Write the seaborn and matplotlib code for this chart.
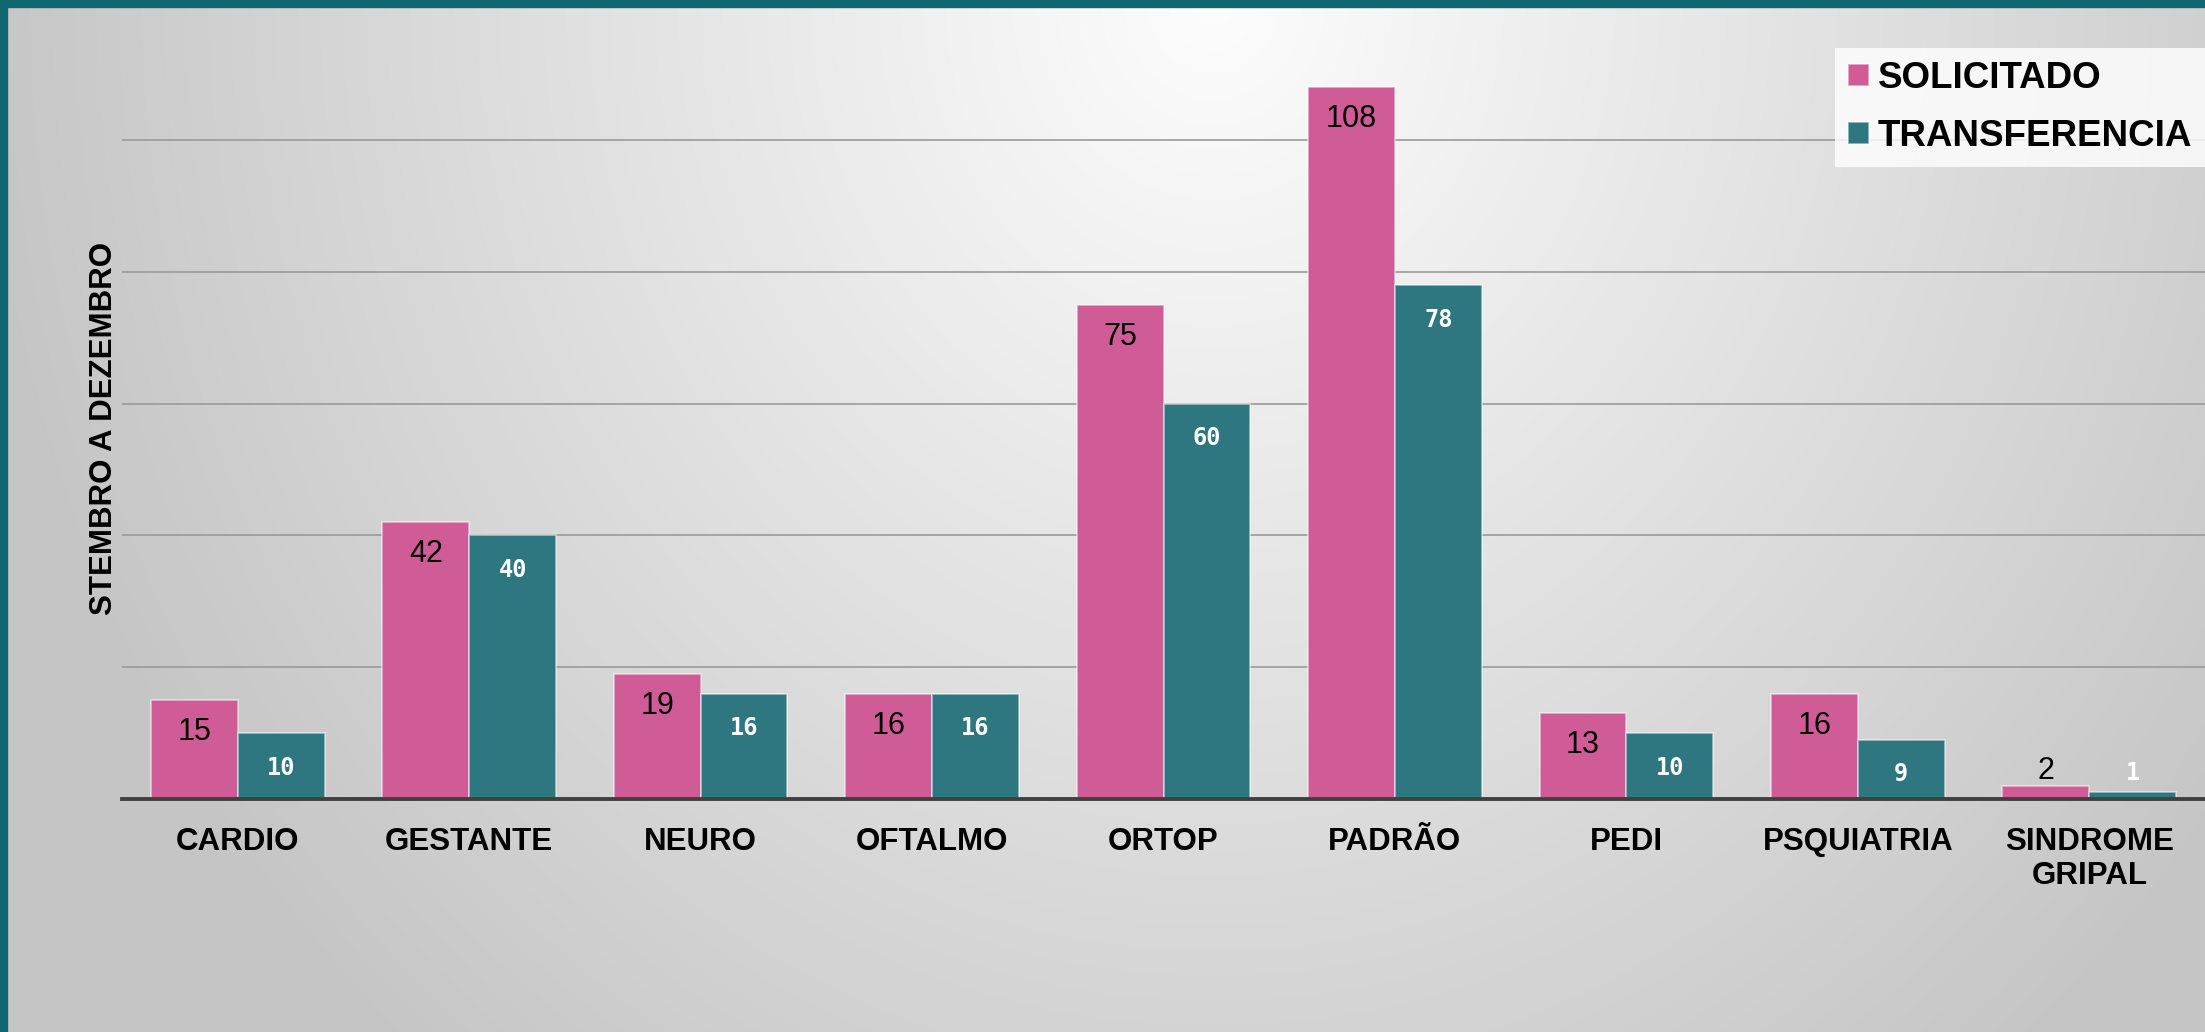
import numpy as np
import pandas as pd
import seaborn as sns
import matplotlib.pyplot as plt
from matplotlib.patches import Rectangle

# values
categorias = ['CARDIO', 'GESTANTE', 'NEURO', 'OFTALMO', 'ORTOP', 'PADRÃO',
              'PEDI', 'PSQUIATRIA', 'SINDROME\nGRIPAL']
solicitado = [15, 42, 19, 16, 75, 108, 13, 16, 2]
transferencia = [10, 40, 16, 16, 60, 78, 10, 9, 1]
series = ['SOLICITADO', 'TRANSFERENCIA']
cores = ['#CF5C96', '#2E7780']

df = pd.DataFrame({
    'categoria': categorias * 2,
    'valor': solicitado + transferencia,
    'serie': [series[0]] * len(categorias) + [series[1]] * len(categorias),
})

sns.set_style('white')
plt.rcParams['font.family'] = ['Liberation Sans', 'DejaVu Sans']
plt.rcParams['text.color'] = 'black'
plt.rcParams['xtick.color'] = 'black'
plt.rcParams['axes.labelcolor'] = 'black'

W, H = 2205, 1032
fig = plt.figure(figsize=(W / 100, H / 100), dpi=100)

# background radial gradient
bg = fig.add_axes([0, 0, 1, 1], zorder=-10)
yy, xx = np.mgrid[0:H, 0:W]
d = np.sqrt(((xx - 0.55 * W) / 1250.0) ** 2 + (yy / 1400.0) ** 2)
val = (253 - 56 * np.clip(d, 0, 1)) / 255.0
bg.imshow(np.dstack([val, val, val]), aspect='auto', extent=[0, 1, 0, 1], origin='upper')
bg.set_axis_off()
# teal borders top / left
fig.patches.append(Rectangle((0, 1 - 7 / H), 1, 7 / H, transform=fig.transFigure,
                             color='#116770', zorder=5))
fig.patches.append(Rectangle((0, 0), 7 / W, 1, transform=fig.transFigure,
                             color='#116770', zorder=5))

ax = fig.add_axes([122 / W, 1 - 799 / H, (W - 122) / W, (799 - 13) / H])
ax.patch.set_alpha(0)

sns.barplot(data=df, x='categoria', y='valor', hue='serie', palette=cores,
            width=0.75, gap=0, saturation=1, ax=ax,
            edgecolor=(1, 1, 1, 0.55), linewidth=1.2)

ax.set_xlim(-0.5, len(categorias) - 0.5)
ax.set_ylim(0, 119.3)
ax.set_yticks([20, 40, 60, 80, 100])
ax.set_yticklabels([])
ax.tick_params(axis='y', length=0)
ax.grid(axis='y', color='#9a9a9a', linewidth=1.2)
ax.set_axisbelow(True)
for s in ['top', 'right', 'left']:
    ax.spines[s].set_visible(False)
ax.spines['bottom'].set_color('#404040')
ax.spines['bottom'].set_linewidth(2.8)

ax.set_xlabel('')
ax.tick_params(axis='x', length=0, pad=20, labelcolor='black')
for t in ax.get_xticklabels():
    t.set_fontsize(22.5)
    t.set_fontweight('bold')
    t.set_va('top')
    t.set_linespacing(1.2)

ax.set_ylabel('STEMBRO A DEZEMBRO', fontsize=22.5, fontweight='bold', va='center',
              color='black')
ax.yaxis.set_label_coords(-0.0085, 0.471)

# value labels
for i, cont in enumerate(ax.containers):
    for p in cont.patches:
        h = p.get_height()
        xc = p.get_x() + p.get_width() / 2
        if i == 0:
            kw = dict(fontsize=22, color='black', family='Liberation Sans')
            off = -23 if h >= 5 else 11
        else:
            kw = dict(fontsize=17, color='white', fontweight='bold', family='DejaVu Sans Mono')
            off = -25 if h >= 5 else 14
        ax.annotate(f'{h:.0f}', (xc, h), xytext=(0, off), textcoords='offset points',
                    ha='center', va='center', **kw)

handles, labels = ax.get_legend_handles_labels()
leg = ax.legend(handles, labels, loc='upper right', bbox_to_anchor=(1.0, 1 - 48 / H),
                bbox_transform=fig.transFigure, borderaxespad=0, frameon=True,
                prop={'family': 'Liberation Sans', 'weight': 'bold', 'size': 26.5},
                handlelength=0.55, handleheight=0.55, handletextpad=0.25,
                labelspacing=0.62, borderpad=0.35, fancybox=False)
leg.get_frame().set_facecolor((1, 1, 1, 0.25))
leg.get_frame().set_edgecolor('none')
for t in leg.get_texts():
    t.set_color('black')

fig.savefig('out.png', dpi=100)
